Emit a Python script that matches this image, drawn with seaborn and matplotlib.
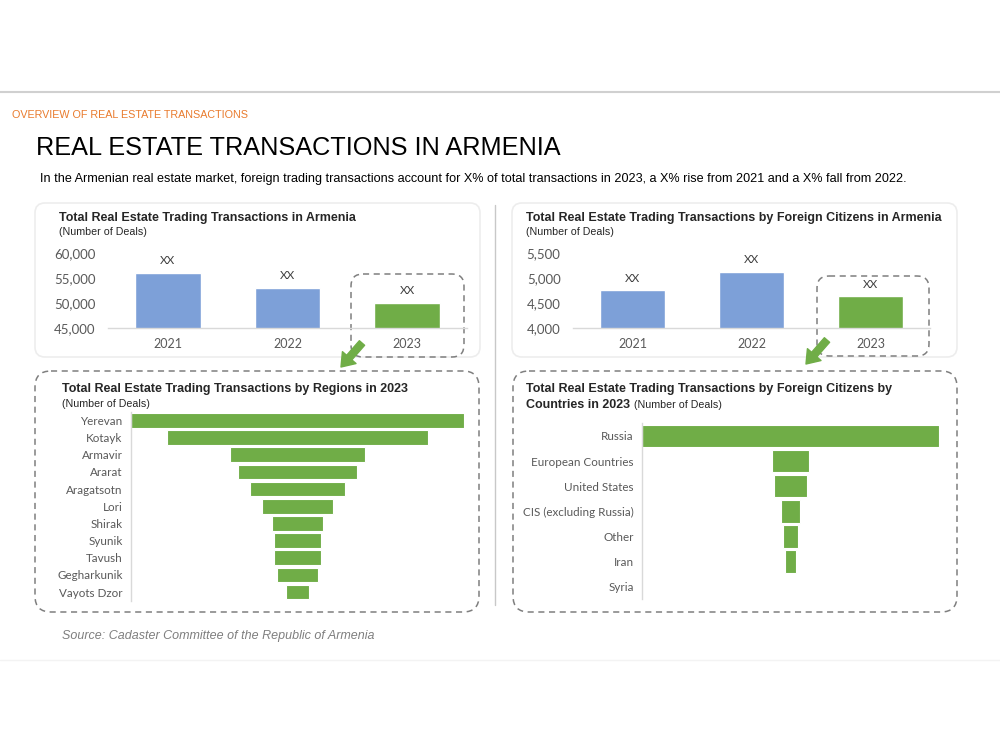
import matplotlib
matplotlib.use("Agg")
import matplotlib.pyplot as plt
import seaborn as sns
import pandas as pd
from matplotlib.patches import FancyBboxPatch

# ---------------- data ----------------
years = ["2021", "2022", "2023"]
total_deals = [56000, 53000, 50000]
foreign_deals = [4750, 5120, 4630]
bar_labels = ["XX", "XX", "XX"]
total_ticks = [45000, 50000, 55000, 60000]
foreign_ticks = [4000, 4500, 5000, 5500]

regions = ["Yerevan", "Kotayk", "Armavir", "Ararat", "Aragatsotn", "Lori",
           "Shirak", "Syunik", "Tavush", "Gegharkunik", "Vayots Dzor"]
region_deals = [13600, 10700, 5480, 4900, 3890, 2860, 2050, 1960, 1920, 1690, 940]

countries = ["Russia", "European Countries", "United States",
             "CIS (excluding Russia)", "Other", "Iran", "Syria"]
country_deals = [3330, 415, 362, 224, 168, 134, 0]

BLUE = "#7DA0D8"
GREEN = "#70AD47"
ORANGE = "#E97B2D"
TICK = "#595959"
AXIS = "#D9D9D9"

sns.set_theme(style="white")
plt.rcParams["font.family"] = ["Liberation Sans", "DejaVu Sans"]

fig = plt.figure(figsize=(10, 7.5), dpi=100)
W, H = 1000, 750

# overlay in pixel coordinates
ov = fig.add_axes([0, 0, 1, 1], zorder=0)
ov.set_xlim(0, W)
ov.set_ylim(H, 0)
ov.axis("off")

def fx(px):
    return px / W

def fy(py):
    return 1 - py / H

TF = ["Liberation Sans", "DejaVu Sans"]

# header
ov.plot([0, W], [92, 92], color="#D0D0D0", lw=1.5)
ov.plot([0, W], [660, 660], color="#F3F3F3", lw=1)
ov.text(12, 115, "OVERVIEW OF REAL ESTATE TRANSACTIONS", color=ORANGE,
        fontsize=7.75, va="center", ha="left", family=TF)
ov.text(36, 148, "REAL ESTATE TRANSACTIONS IN ARMENIA", color="black",
        fontsize=18.2, va="center", ha="left", family=TF)
ov.text(40, 179, "In the Armenian real estate market, foreign trading transactions account for X% "
        "of total transactions in 2023, a X% rise from 2021 and a X% fall from 2022.",
        color="black", fontsize=9.1, va="center", ha="left", family=TF)
ov.text(62, 636, "Source: Cadaster Committee of the Republic of Armenia", color="#7F7F7F",
        fontsize=9, style="italic", va="center", ha="left", family=TF)

# divider
ov.plot([495, 495], [205, 605], color="#C8C8C8", lw=1)

def card(x0, y0, x1, y1, dashed=False, r=10):
    if dashed:
        p = FancyBboxPatch((x0, y0), x1 - x0, y1 - y0,
                           boxstyle=f"round,pad=0,rounding_size={r}",
                           fc="none", ec="#7F7F7F", lw=1.1, ls=(0, (4, 3)))
    else:
        p = FancyBboxPatch((x0, y0), x1 - x0, y1 - y0,
                           boxstyle=f"round,pad=0,rounding_size={r}",
                           fc="white", ec="#EDEDED", lw=1.2)
    ov.add_patch(p)

card(35, 203, 480, 357)
card(512, 203, 957, 357)
card(35, 371, 479, 612, dashed=True, r=16)
card(513, 371, 957, 612, dashed=True, r=16)
card(351, 274, 464, 357, dashed=True, r=12)
card(817, 276, 929, 356, dashed=True, r=12)

# arrows
for (sx, sy), (tx, ty) in [((362, 343), (341, 367)), ((827, 340), (806, 364))]:
    ov.annotate("", xy=(tx, ty), xytext=(sx, sy),
                arrowprops=dict(arrowstyle="simple,head_width=1.3,head_length=0.9,tail_width=0.5",
                                color=GREEN, mutation_scale=10, shrinkA=0, shrinkB=0))

# titles of panels
TS, SS = 9.0, 7.7
ov.text(59, 218, "Total Real Estate Trading Transactions in Armenia", fontsize=TS,
        fontweight="bold", va="center", family=TF)
ov.text(59, 232, "(Number of Deals)", fontsize=SS, va="center", family=TF)
ov.text(526, 218, "Total Real Estate Trading Transactions by Foreign Citizens in Armenia",
        fontsize=TS, fontweight="bold", va="center", family=TF)
ov.text(526, 232, "(Number of Deals)", fontsize=SS, va="center", family=TF)
ov.text(62, 389, "Total Real Estate Trading Transactions by Regions in 2023", fontsize=TS,
        fontweight="bold", va="center", family=TF)
ov.text(62, 404, "(Number of Deals)", fontsize=SS, va="center", family=TF)
ov.text(526, 389, "Total Real Estate Trading Transactions by Foreign Citizens by", fontsize=TS,
        fontweight="bold", va="center", family=TF)
t_c = ov.text(526, 405, "Countries in 2023", fontsize=TS, fontweight="bold", va="center", family=TF)
fig.canvas.draw()
bb = t_c.get_window_extent(renderer=fig.canvas.get_renderer())
ov.text(bb.x1 + 4, 405, "(Number of Deals)", fontsize=SS, va="center", family=TF)

CF = ["Lato", "DejaVu Sans"]

# ---------------- top column charts ----------------
def column_chart(rect, values, ticks):
    ax = fig.add_axes(rect, zorder=2)
    ax.set_facecolor("none")
    df = pd.DataFrame({"year": years, "deals": values})
    sns.barplot(data=df, x="year", y="deals", hue="year",
                palette=[BLUE, BLUE, GREEN], width=0.55, legend=False, ax=ax,
                saturation=1)
    ax.set_ylim(ticks[0], ticks[-1])
    ax.set_xlim(-0.5, len(years) - 0.5)
    ax.set_yticks(ticks)
    ax.set_yticklabels([f"{t:,}" for t in ticks], family=CF, fontsize=9.5, color=TICK)
    ax.set_xticks(range(len(years)))
    ax.set_xticklabels(years, family=CF, fontsize=9, color=TICK)
    ax.set_xticks([i - 0.5 for i in range(len(years) + 1)], minor=True)
    ax.tick_params(axis="x", which="major", length=0, pad=7)
    ax.tick_params(axis="x", which="minor", length=4, color=AXIS, width=1, direction="out")
    ax.tick_params(axis="y", length=0, pad=9)
    for s in ["top", "right", "left"]:
        ax.spines[s].set_visible(False)
    ax.spines["bottom"].set_color(AXIS)
    ax.spines["bottom"].set_linewidth(1)
    ax.set_xlabel("")
    ax.set_ylabel("")
    for cont in ax.containers:
        ax.bar_label(cont, labels=[bar_labels[0]] * len(cont), padding=5,
                     fontsize=8.5, color="#404040", family=CF)
    return ax

column_chart([fx(108), fy(328), fx(467) - fx(108), (328 - 253) / H], total_deals, total_ticks)
column_chart([fx(573), fy(328), fx(930) - fx(573), (328 - 253) / H], foreign_deals, foreign_ticks)

# ---------------- funnel charts ----------------
def funnel(rect, names, values, bar_w):
    ax = fig.add_axes(rect, zorder=2)
    ax.set_facecolor("none")
    df = pd.DataFrame({"name": names, "deals": values})
    sns.barplot(data=df, x="deals", y="name", orient="h", color=GREEN, saturation=1,
                width=bar_w, edgecolor="white", linewidth=0.8, ax=ax)
    vmax = max(values)
    for p, v in zip(ax.patches, values):
        p.set_x((vmax - v) / 2)
    ax.set_xlim(0, vmax)
    ax.set_xticks([])
    ax.set_xlabel("")
    ax.set_ylabel("")
    ax.tick_params(axis="y", length=0, pad=6)
    for lab in ax.get_yticklabels():
        lab.set_family(CF)
        lab.set_fontsize(8.4)
        lab.set_color(TICK)
    for s in ["top", "right", "bottom"]:
        ax.spines[s].set_visible(False)
    ax.spines["left"].set_color(AXIS)
    ax.spines["left"].set_linewidth(1)
    return ax

funnel([fx(131), fy(600.6), fx(464) - fx(131), (600.6 - 411.9) / H], regions, region_deals, 0.85)
funnel([fx(642), fy(599.3), fx(939) - fx(642), (599.3 - 423.4) / H], countries, country_deals, 0.89)

fig.savefig("out.png", dpi=100, facecolor="white")
